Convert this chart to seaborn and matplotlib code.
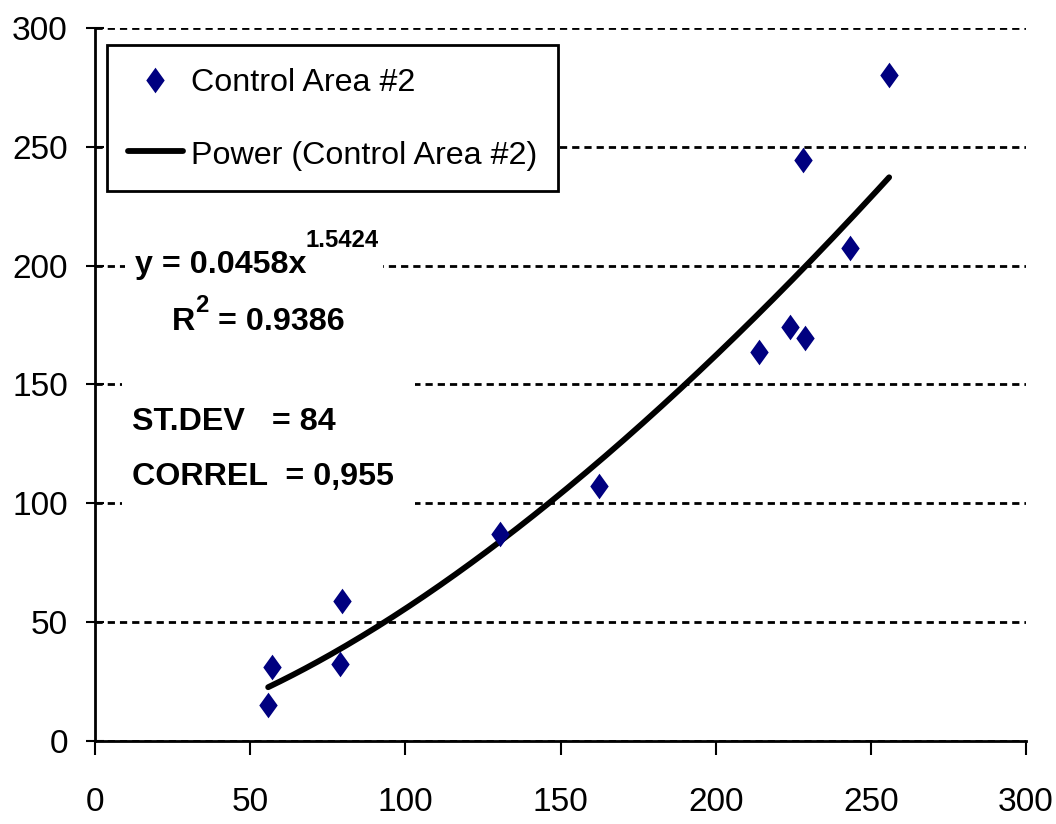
import numpy as np
import pandas as pd
import matplotlib
matplotlib.use("Agg")
import matplotlib.pyplot as plt
import seaborn as sns
from matplotlib.path import Path
from matplotlib.patches import Rectangle
from matplotlib import font_manager

# ---------------- data ----------------
x_values = [55.8, 56.9, 78.9, 79.7, 130.5, 162.4, 214.1, 224.0, 228.8, 228.0, 243.3, 255.9]
y_values = [15.1, 31.3, 32.4, 59.0, 87.1, 107.3, 163.8, 174.3, 169.7, 244.5, 207.6, 280.2]
series_label = "Control Area #2"
trend_label = "Power (Control Area #2)"
trend_coef = 0.0458      # from the trendline equation shown on the chart
trend_exp = 1.5424
x_ticks = [0, 50, 100, 150, 200, 250, 300]
y_ticks = [0, 50, 100, 150, 200, 250, 300]
eq_text = "y = 0.0458x"
eq_sup = "1.5424"
r2_main = "R"
r2_sup = "2"
r2_rest = " = 0.9386"
stdev_text = "ST.DEV   = 84"
correl_text = "CORREL  = 0,955"

# ---------------- style ----------------
sns.set_style("white")
names = {f.name for f in font_manager.fontManager.ttflist}
narrow = 'Liberation Sans Narrow' in names
base = 'Liberation Sans Narrow' if narrow else 'Liberation Sans'
k = 1.0 if narrow else 0.86
FS_TICK = 28 * k          # tick labels
FS = 27 * k               # legend and annotation text
FS_SUP = 20 * k           # superscripts
plt.rcParams['font.family'] = [base, 'DejaVu Sans']
plt.rcParams['text.color'] = 'black'

W, H = 1056, 824
fig = plt.figure(figsize=(W / 100, H / 100), dpi=100)
ax = fig.add_axes([95 / W, 1 - 741 / H, (1026 - 95) / W, (741 - 28) / H])

def fx(px):
    return px / W

def fy(py):
    return 1 - py / H

df = pd.DataFrame({"x": x_values, "y": y_values})
xt = np.linspace(min(x_values), max(x_values), 200)
trend_df = pd.DataFrame({"x": xt, "y": trend_coef * xt ** trend_exp})

diamond = Path([(0, 1), (0.72, 0), (0, -1), (-0.72, 0), (0, 1)], closed=True)

sns.scatterplot(data=df, x="x", y="y", ax=ax, marker=diamond, s=340,
                color="#000080", edgecolor="#000080", linewidth=0,
                label=series_label, zorder=4)
sns.lineplot(data=trend_df, x="x", y="y", ax=ax, color="black", lw=4.2,
             label=trend_label, zorder=3)

ax.set_xlim(0, 300)
ax.set_ylim(0, 300)
ax.set_xticks(x_ticks)
ax.set_yticks(y_ticks)
ax.set_xlabel("")
ax.set_ylabel("")

ax.set_axisbelow(True)
ax.yaxis.grid(True, color="black", linestyle=(0, (2.6, 1.8)), lw=2)
ax.xaxis.grid(False)
for s in ["top", "right"]:
    ax.spines[s].set_visible(False)
for s in ["left", "bottom"]:
    ax.spines[s].set_color("black")
    ax.spines[s].set_linewidth(2)

ax.tick_params(axis="y", direction="inout", length=13, width=1.5, pad=13,
               labelsize=FS_TICK, colors="black", left=True)
ax.tick_params(axis="x", direction="out", length=10, width=1.5, pad=23,
               labelsize=FS_TICK, colors="black", bottom=True)

# white areas behind the text boxes (interrupt the grid)
ax.add_patch(Rectangle((fx(125), fy(345)), fx(383) - fx(125), fy(225) - fy(345),
                       transform=fig.transFigure, facecolor="white",
                       edgecolor="none", zorder=1))
ax.add_patch(Rectangle((fx(122), fy(512)), fx(415) - fx(122), fy(372) - fy(512),
                       transform=fig.transFigure, facecolor="white",
                       edgecolor="none", zorder=1))

handles, labels = ax.get_legend_handles_labels()
order = [labels.index(series_label), labels.index(trend_label)]
leg = ax.legend([handles[i] for i in order], [labels[i] for i in order],
                loc="upper left", bbox_to_anchor=(fx(107), fy(45)),
                bbox_transform=fig.transFigure, borderaxespad=0,
                fontsize=FS, frameon=True, fancybox=False, framealpha=1,
                edgecolor="black", handlelength=1.72, handleheight=1.0,
                handletextpad=0.25, borderpad=0.64, labelspacing=1.24,
                labelcolor="black")
leg.get_frame().set_linewidth(2)

# annotation texts
tk = dict(color="black", fontweight="bold", va="baseline", ha="left")
t_eq = fig.text(fx(135), fy(273), eq_text, fontsize=FS, **tk)
t_r = fig.text(fx(172), fy(330), r2_main, fontsize=FS, **tk)
fig.text(fx(132), fy(430), stdev_text, fontsize=FS, **tk)
fig.text(fx(132), fy(485), correl_text, fontsize=FS, **tk)

renderer = fig.canvas.get_renderer()
bb = t_eq.get_window_extent(renderer)
fig.text(bb.x1 / W - fx(1), fy(247), eq_sup, fontsize=FS_SUP, **tk)
bb = t_r.get_window_extent(renderer)
t_r2 = fig.text(bb.x1 / W, fy(312), r2_sup, fontsize=FS_SUP, **tk)
bb2 = t_r2.get_window_extent(renderer)
fig.text(bb2.x1 / W, fy(330), r2_rest, fontsize=FS, **tk)

fig.savefig("out.png", dpi=100, facecolor="white")
